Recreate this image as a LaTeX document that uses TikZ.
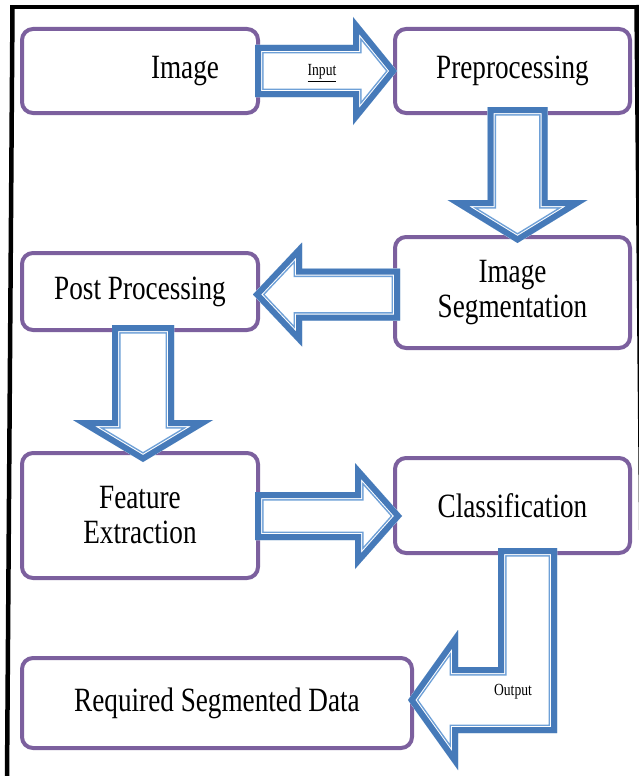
\documentclass[tikz,border=0pt]{standalone}
\usepackage{fontspec}
\setmainfont{Liberation Serif}
\usepackage{graphicx}
\usetikzlibrary{calc}
\definecolor{boxpurple}{RGB}{124,96,158}
\definecolor{arrblue}{RGB}{70,122,185}
\definecolor{arrlight}{RGB}{110,160,215}
\newcommand\sq[1]{\scalebox{0.8}[1]{#1}}
\newcommand\blockarrow[1]{%
  \fill[white] #1;
  \begin{scope}
    \clip #1;
    \draw[arrlight, line width=17pt] #1;
    \draw[white, line width=14pt] #1;
    \draw[arrblue, line width=12pt] #1;
  \end{scope}}
\begin{document}
\begin{tikzpicture}[x=1pt, y=-1pt,
  box/.style={draw=boxpurple, line width=4pt, rounded corners=11pt, fill=white,
    outer sep=0pt, inner sep=0pt, align=center, font=\fontsize{34}{35}\selectfont},
  txt/.style={inner sep=0pt, font=\fontsize{34}{35}\selectfont},
  small/.style={inner sep=0pt, font=\fontsize{17}{19}\selectfont},
  frame/.style={draw=black, line width=4.5pt}]
\useasboundingbox[fill=white] (0,0) rectangle (639,776);
% frame
\draw[frame] (12.5,7) -- (7,780);
\draw[frame] (10,7) -- (645,7);
\draw[frame] (636.5,5) -- (643.5,780);
% boxes
\node[box, minimum width=236pt, minimum height=84pt] (img) at (140,71) {};
\node[txt] (imgtext) at (185,71) {\sq{Image}};
\node[box, minimum width=235pt, minimum height=84pt] (pre) at (512.5,71) {\sq{Preprocessing}};
\node[box, minimum width=235pt, minimum height=111pt] (seg) at (512.5,292.5) {\sq{Image}\\\sq{Segmentation}};
\node[box, minimum width=236pt, minimum height=77pt] (post) at (140,291.5) {\sq{Post Processing}};
\node[box, minimum width=236pt, minimum height=125pt] (feat) at (140,515.5) {\sq{Feature}\\\sq{Extraction}};
\node[box, minimum width=235pt, minimum height=95pt] (cls) at (512.5,505.5) {\sq{Classification}};
\node[box, minimum width=390pt, minimum height=90pt] (req) at (217,703) {\sq{Required Segmented Data}};
% arrow anchors
\coordinate (t2) at ($(pre.south)+(5,-6)$);
\coordinate (h2) at ($(seg.north)+(5,6)$);
\coordinate (t3) at ($(seg.west)+(5,2)$);
\coordinate (h3) at ($(post.east)+(-5,3)$);
\coordinate (t4) at ($(post.south)+(3,-5)$);
\coordinate (h4) at ($(feat.north)+(3,9)$);
\coordinate (t5) at ($(feat.east)+(-3,0.5)$);
\coordinate (h5) at ($(cls.west |- t5)+(7,0)$);
\coordinate (t6) at ($(cls.south)+(15,-5)$);
\coordinate (h6) at ($(req.east)+(-4,-3)$);
% arrow 1: Image -> Preprocessing
\blockarrow{($(img.east)+(-3,-26)$) -- ($(pre.west)+(-42,-26)$) -- ($(pre.west)+(-42,-54)$) -- ($(pre.west)+(2,0)$) -- ($(pre.west)+(-42,54)$) -- ($(pre.west)+(-42,26)$) -- ($(img.east)+(-3,26)$) -- cycle}
% arrow 2: Preprocessing -> Image Segmentation
\blockarrow{($(t2)+(-30,0)$) -- ($(t2)+(30,0)$) -- ($(h2)+(30,-43)$) -- ($(h2)+(70,-43)$) -- (h2) -- ($(h2)+(-70,-43)$) -- ($(h2)+(-30,-43)$) -- cycle}
% arrow 3: Image Segmentation -> Post Processing
\blockarrow{($(t3)+(0,-26)$) -- ($(h3)+(49,-26)$) -- ($(h3)+(49,-52)$) -- (h3) -- ($(h3)+(49,52)$) -- ($(h3)+(49,26)$) -- ($(t3)+(0,26)$) -- cycle}
% arrow 4: Post Processing -> Feature Extraction
\blockarrow{($(t4)+(-31,0)$) -- ($(t4)+(31,0)$) -- ($(h4)+(31,-42)$) -- ($(h4)+(70,-42)$) -- (h4) -- ($(h4)+(-70,-42)$) -- ($(h4)+(-31,-42)$) -- cycle}
% arrow 5: Feature Extraction -> Classification
\blockarrow{($(t5)+(0,-24)$) -- ($(h5)+(-47,-24)$) -- ($(h5)+(-47,-53)$) -- (h5) -- ($(h5)+(-47,53)$) -- ($(h5)+(-47,24)$) -- ($(t5)+(0,24)$) -- cycle}
% arrow 6: Classification -> Required Segmented Data
\blockarrow{($(t6)+(-29.5,0)$) -- ($(t6)+(29.5,0)$) -- ($(t6 |- h6)+(29.5,33)$) -- ($(h6)+(50,33)$) -- ($(h6)+(50,70)$) -- (h6) -- ($(h6)+(50,-70)$) -- ($(h6)+(50,-33)$) -- ($(t6 |- h6)+(-29.5,-33)$) -- cycle}
% labels
\node[small] (inlab) at (322,73) {\sq{\underline{Input}}};
\node[small] (outlab) at (513,692) {\sq{Output}};
\end{tikzpicture}
\end{document}
